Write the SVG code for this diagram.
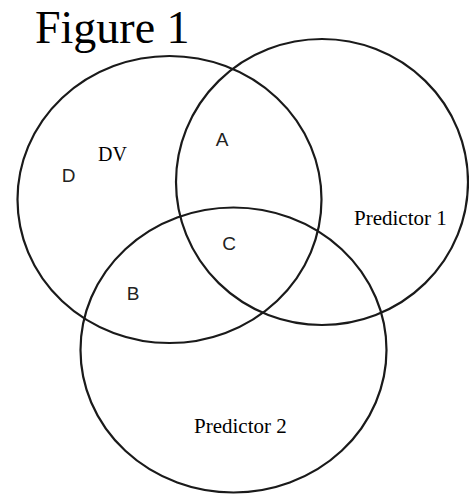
<svg xmlns="http://www.w3.org/2000/svg" width="469" height="495" viewBox="0 0 469 495">
<style>
.c{fill:none;stroke:#1a1a1a;stroke-width:2.2}
.t{font-family:"Liberation Serif","Times New Roman",serif;fill:#000}
.l{font-family:"Liberation Sans",Arial,sans-serif;fill:#222;font-size:19px;text-anchor:middle}
</style>
<rect width="469" height="495" fill="#fff"/>
<text class="t" x="35" y="43" font-size="46">Figure 1</text>
<g id="connectors"></g>
<g id="dv">
<ellipse class="c" cx="169.5" cy="199.5" rx="152" ry="143.5"/>
<text class="t" x="98" y="161" font-size="20">DV</text>
</g>
<g id="predictor1">
<ellipse class="c" cx="322" cy="182" rx="146" ry="143"/>
<text class="t" x="354" y="225" font-size="21">Predictor 1</text>
</g>
<g id="predictor2">
<ellipse class="c" cx="233.5" cy="350" rx="153" ry="142.5"/>
<text class="t" x="194" y="433" font-size="21">Predictor 2</text>
</g>
<g id="labels">
<text class="l" x="68.5" y="182">D</text>
<text class="l" x="222" y="146">A</text>
<text class="l" x="229" y="250">C</text>
<text class="l" x="133" y="300">B</text>
</g>
</svg>
